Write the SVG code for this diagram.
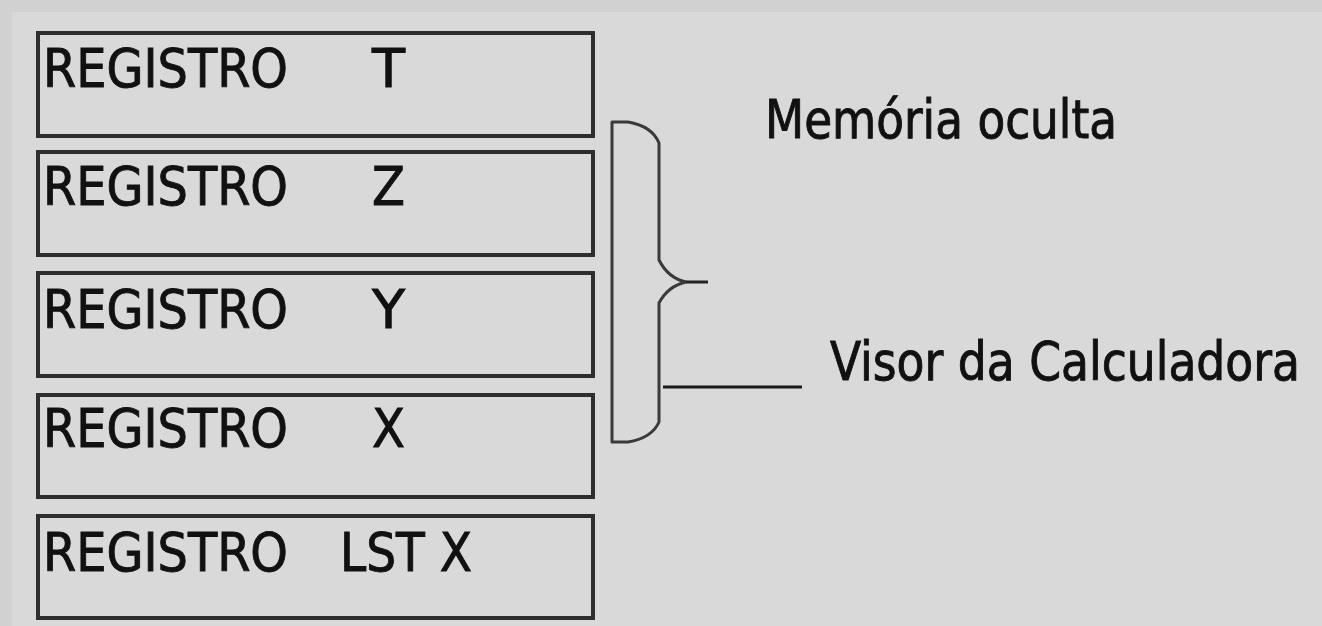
<svg xmlns="http://www.w3.org/2000/svg" width="1322" height="626" viewBox="0 0 1322 626">
<style>
.box{fill:#d9d9d9;stroke:#2e2e2e;stroke-width:4}
.t{font-family:"DejaVu Sans Condensed","DejaVu Sans",sans-serif;font-size:53px;fill:#111;stroke:#111;stroke-width:0.9}
.br{fill:none;stroke:#3a3a3a;stroke-width:3;stroke-linejoin:round}
</style>
<rect x="0" y="0" width="1322" height="626" fill="#d2d1d2"/>
<rect x="12" y="12" width="1310" height="614" fill="#d9d9d9"/>
<g id="reg-t">
<rect class="box" x="38" y="33" width="555" height="103"/>
<text class="t" y="87"><tspan x="43" textLength="245" lengthAdjust="spacingAndGlyphs">REGISTRO</tspan> <tspan x="372" textLength="33" lengthAdjust="spacingAndGlyphs">T</tspan></text>
</g>
<g id="reg-z">
<rect class="box" x="38" y="152" width="555" height="103"/>
<text class="t" y="205"><tspan x="43" textLength="245" lengthAdjust="spacingAndGlyphs">REGISTRO</tspan> <tspan x="372" textLength="33" lengthAdjust="spacingAndGlyphs">Z</tspan></text>
</g>
<g id="reg-y">
<rect class="box" x="38" y="273" width="555" height="103"/>
<text class="t" y="328"><tspan x="43" textLength="245" lengthAdjust="spacingAndGlyphs">REGISTRO</tspan> <tspan x="372" textLength="33" lengthAdjust="spacingAndGlyphs">Y</tspan></text>
</g>
<g id="reg-x">
<rect class="box" x="38" y="395" width="555" height="102"/>
<text class="t" y="447"><tspan x="43" textLength="245" lengthAdjust="spacingAndGlyphs">REGISTRO</tspan> <tspan x="372" textLength="33" lengthAdjust="spacingAndGlyphs">X</tspan></text>
</g>
<g id="reg-lstx">
<rect class="box" x="38" y="516" width="555" height="102"/>
<text class="t" y="571"><tspan x="43" textLength="245" lengthAdjust="spacingAndGlyphs">REGISTRO</tspan> <tspan x="340" textLength="132" lengthAdjust="spacingAndGlyphs">LST X</tspan></text>
</g>
<g id="connectors">
<path class="br" d="M612,122 L628,122 Q652,126 659,143 L659,260 Q668,278 686,282 Q668,286 659,303 L659,422 Q652,438 628,442 L612,442 Z"/>
<line x1="686" y1="282" x2="708" y2="282" stroke="#222" stroke-width="3"/>
<line x1="663" y1="387" x2="802" y2="387" stroke="#1a1a1a" stroke-width="3"/>
</g>
<g id="lbl-memoria">
<text class="t" x="765" y="138" textLength="352" lengthAdjust="spacingAndGlyphs">Memória oculta</text>
</g>
<g id="lbl-visor">
<text class="t" x="830" y="380" textLength="470" lengthAdjust="spacingAndGlyphs">Visor da Calculadora</text>
</g>
</svg>
